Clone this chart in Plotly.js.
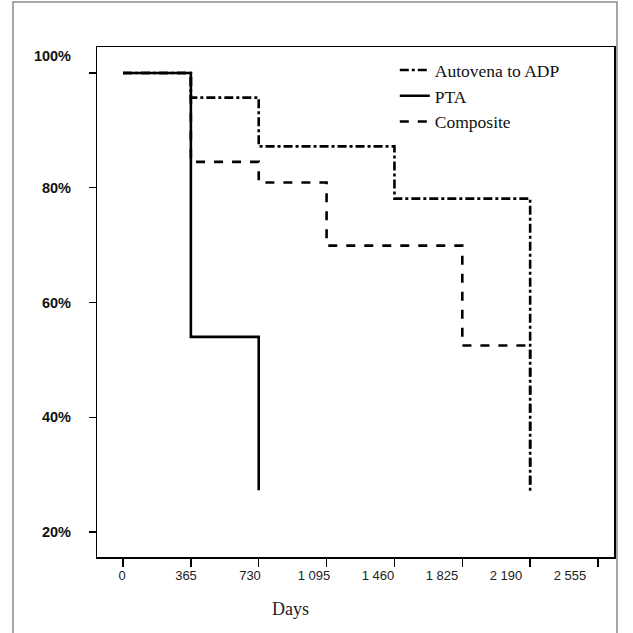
<!DOCTYPE html>
<html>
<head>
<meta charset="utf-8">
<script src="https://cdn.plot.ly/plotly-3.0.1.min.js"></script>
<style>html,body{margin:0;padding:0;background:#fff;}#chart{width:633px;height:633px;}</style>
</head>
<body>
<div id="chart"></div>
<script>
// Data (days, survival %)
const seriesNames = ["Autovena to ADP", "PTA", "Composite"];
const autovenaDays = [0, 365, 730, 1460, 2190];
const autovenaSurv = [100, 95.7, 87.2, 78.1, 26.8];
const ptaDays = [0, 365, 730];
const ptaSurv = [100, 54.0, 27.3];
const compositeDays = [0, 365, 730, 1095, 1825, 2190];
const compositeSurv = [100, 84.5, 80.9, 69.9, 52.5, 26.8];
const xTickVals = [0, 365, 730, 1095, 1460, 1825, 2190, 2555];
const xTickText = ["0", "365", "730", "1 095", "1 460", "1 825", "2 190", "2 555"];
const yTickVals = [20, 40, 60, 80, 100];
const yTickText = ["20%", "40%", "60%", "80%", "100%"];
const yLabelPos = [20, 40, 60, 80, 103];
const xTitle = "Days";

const lw = 2.6;
const traces = [
  {x: autovenaDays, y: autovenaSurv, name: seriesNames[0], mode: "lines",
   line: {shape: "hv", color: "#000", width: lw, dash: "dashdot"}},
  {x: ptaDays, y: ptaSurv, name: seriesNames[1], mode: "lines",
   line: {shape: "hv", color: "#000", width: lw, dash: "solid"}},
  {x: compositeDays, y: compositeSurv, name: seriesNames[2], mode: "lines",
   line: {shape: "hv", color: "#000", width: lw, dash: "dash"}},
  // invisible helper trace for the label axes
  {x: [0], y: [50], xaxis: "x2", yaxis: "y2", mode: "markers", marker: {opacity: 0}, showlegend: false, hoverinfo: "skip"}
];

const layout = {
  width: 633, height: 633,
  margin: {l: 97, r: 19, t: 47, b: 76},
  paper_bgcolor: "#fff", plot_bgcolor: "#fff",
  showlegend: true,
  legend: {x: 0.576, y: 0.99, xanchor: "left", yanchor: "top",
           bgcolor: "rgba(0,0,0,0)", itemwidth: 30, tracegroupgap: 0,
           font: {family: "Liberation Serif, serif", size: 17.5, color: "#111"}},
  xaxis: {range: [-139.9, 2641], tickvals: xTickVals, ticktext: xTickText,
          showticklabels: false, ticks: "outside", ticklen: 8, tickwidth: 1.5, tickcolor: "#000",
          showline: true, linecolor: "#000", linewidth: 1.5, mirror: true,
          showgrid: false, zeroline: false, fixedrange: true},
  xaxis2: {overlaying: "x", side: "bottom", range: [-142.6, 2806],
           tickvals: xTickVals, ticktext: xTickText, ticks: "", showline: false,
           showgrid: false, zeroline: false, ticklabelstandoff: 9,
           tickfont: {family: "Liberation Sans, Arial, sans-serif", size: 13, color: "#222"}},
  yaxis: {range: [15.65, 104.52], tickvals: yTickVals, ticktext: yTickText,
          showticklabels: false, ticks: "outside", ticklen: 7, tickwidth: 1.5, tickcolor: "#000",
          showline: true, linecolor: "#000", linewidth: 1.5, mirror: true,
          showgrid: false, zeroline: false},
  yaxis2: {overlaying: "y", side: "left", range: [15.65, 104.52],
           tickvals: yLabelPos, ticktext: yTickText, ticks: "", showline: false,
           showgrid: false, zeroline: false, ticklabelstandoff: 25,
           tickfont: {family: "Liberation Sans, Arial, sans-serif", size: 14.5, color: "#111", weight: "bold"}},
  annotations: [
    {text: xTitle, xref: "paper", yref: "paper", x: 0.375, y: -0.102, xanchor: "center", yanchor: "middle",
     showarrow: false, font: {family: "Liberation Serif, serif", size: 18, color: "#222"}}
  ],
  shapes: [
    {type: "rect", xref: "paper", yref: "paper", x0: -0.1625, x1: 1.0058, y0: -0.2, y1: 1.088,
     line: {color: "#8a8a8a", width: 1.5}, fillcolor: "rgba(0,0,0,0)", layer: "below"}
  ]
};

Plotly.newPlot("chart", traces, layout, {staticPlot: true, displayModeBar: false});
</script>
</body>
</html>
